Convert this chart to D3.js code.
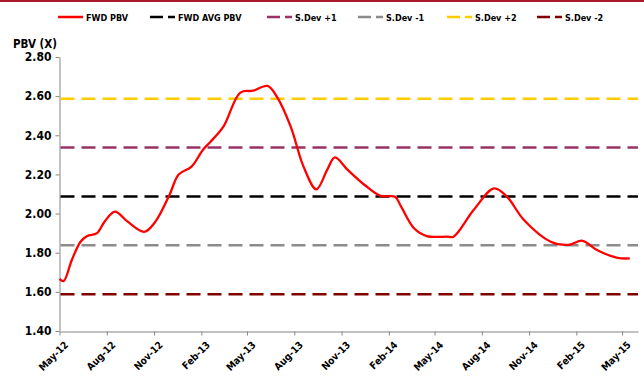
<!DOCTYPE html>
<html>
<head>
<meta charset="utf-8">
<script src="https://cdn.jsdelivr.net/npm/d3@7"></script>
<style>
  body { margin: 0; background: #fff; }
  text { font-family: "DejaVu Sans Condensed", "DejaVu Sans", sans-serif; font-weight: bold; fill: #000; }
</style>
</head>
<body>
<svg id="chart" width="644" height="376"></svg>
<script>
// FWD PBV readings (date, value)
var pbvDates = ["2012-05-01","2012-05-09","2012-05-25","2012-06-11","2012-06-24","2012-07-13","2012-07-28",
    "2012-08-17","2012-09-10","2012-10-13","2012-11-04","2012-12-01","2012-12-19","2013-01-13","2013-02-04",
    "2013-02-19","2013-03-16","2013-04-18","2013-05-13","2013-06-10","2013-06-28","2013-07-25","2013-08-19",
    "2013-09-13","2013-10-04","2013-10-19","2013-11-13","2013-12-16","2014-01-16","2014-02-13","2014-02-25",
    "2014-03-22","2014-04-16","2014-05-25","2014-06-07","2014-07-16","2014-08-25","2014-09-19","2014-10-22",
    "2014-12-13","2015-01-16","2015-02-13","2015-03-13","2015-04-22","2015-05-16"];
var pbvValues = [1.666,1.655,1.763,1.856,1.885,1.90,1.96,
    2.01,1.96,1.907,1.96,2.095,2.20,2.24,2.325,
    2.367,2.444,2.618,2.628,2.652,2.597,2.444,2.24,
    2.124,2.223,2.287,2.223,2.146,2.09,2.086,2.035,
    1.925,1.885,1.882,1.882,2.018,2.129,2.086,1.967,
    1.856,1.84,1.861,1.814,1.774,1.771];

// horizontal reference levels
var bandNames = ["FWD AVG PBV", "S.Dev +1", "S.Dev -1", "S.Dev +2", "S.Dev -2"];
var bandValues = [2.087, 2.337, 1.838, 2.587, 1.588];
var bandColors = ["#000000", "#993366", "#8c8c8c", "#ffcc00", "#800000"];

var yTicks = [1.40, 1.60, 1.80, 2.00, 2.20, 2.40, 2.60, 2.80];
var xTickDates = ["2012-05-01","2012-08-01","2012-11-01","2013-02-01","2013-05-01","2013-08-01","2013-11-01",
    "2014-02-01","2014-05-01","2014-08-01","2014-11-01","2015-02-01","2015-05-01"];

var parse = d3.utcParse("%Y-%m-%d");
var fmtX = d3.utcFormat("%b-%y");

var svg = d3.select("#chart");

// red rule across the top
svg.append("rect").attr("x", 0).attr("y", 0).attr("width", 644).attr("height", 2).attr("fill", "#a8192e");

var x = d3.scaleUtc()
    .domain([parse("2012-05-01"), parse("2015-06-01")])
    .range([59.5, 638]);
var y = d3.scaleLinear()
    .domain([1.40, 2.80])
    .range([331, 57]);

var points = pbvDates.map(function(d, i) { return { date: parse(d), value: pbvValues[i] }; });

// axes
var yAxis = svg.append("g")
    .attr("transform", "translate(59.5,0)")
    .call(d3.axisLeft(y).tickValues(yTicks).tickSize(4).tickSizeOuter(0).tickFormat(d3.format(".2f")));
yAxis.select(".domain").attr("stroke", "#868686");
yAxis.selectAll(".tick line").attr("stroke", "#868686");
yAxis.selectAll("text").attr("font-size", 12).attr("x", -8);

var xAxis = svg.append("g")
    .attr("transform", "translate(0,331.5)")
    .call(d3.axisBottom(x).tickValues(xTickDates.map(parse)).tickSize(4).tickSizeOuter(0).tickFormat(fmtX));
xAxis.select(".domain").attr("stroke", "#868686");
xAxis.selectAll(".tick line").attr("stroke", "#868686");
xAxis.selectAll("text")
    .attr("font-size", 10)
    .attr("text-anchor", "end")
    .attr("dy", 0)
    .attr("transform", "translate(4,9) rotate(-45)");

svg.append("text").attr("x", 13).attr("y", 48).attr("font-size", 11.5).text("PBV (X)");

// reference lines
svg.append("g").selectAll("line")
    .data(bandValues)
    .join("line")
    .attr("x1", x.range()[0] + 1)
    .attr("x2", x.range()[1])
    .attr("y1", function(d) { return y(d); })
    .attr("y2", function(d) { return y(d); })
    .attr("stroke", function(d, i) { return bandColors[i]; })
    .attr("stroke-width", 2.5)
    .attr("stroke-dasharray", "14,7");

// FWD PBV curve
var line = d3.line()
    .x(function(d) { return x(d.date); })
    .y(function(d) { return y(d.value); })
    .curve(d3.curveCatmullRom.alpha(0.5));

svg.append("path")
    .datum(points)
    .attr("d", line)
    .attr("fill", "none")
    .attr("stroke", "#ff0000")
    .attr("stroke-width", 2.3);

// legend
var legendNames = ["FWD PBV"].concat(bandNames);
var legendColors = ["#ff0000"].concat(bandColors);
var legendX = [58, 150, 267, 358, 447, 537];
var legend = svg.append("g").selectAll("g")
    .data(legendNames)
    .join("g")
    .attr("transform", function(d, i) { return "translate(" + legendX[i] + ",17)"; });
legend.append("line")
    .attr("x1", 0).attr("x2", 25).attr("y1", 0).attr("y2", 0)
    .attr("stroke", function(d, i) { return legendColors[i]; })
    .attr("stroke-width", 2.5)
    .attr("stroke-dasharray", function(d, i) { return i === 0 ? null : "13,5"; });
legend.append("text")
    .attr("x", 28).attr("y", 3.5)
    .attr("font-size", 9)
    .text(function(d) { return d; });
</script>
</body>
</html>
